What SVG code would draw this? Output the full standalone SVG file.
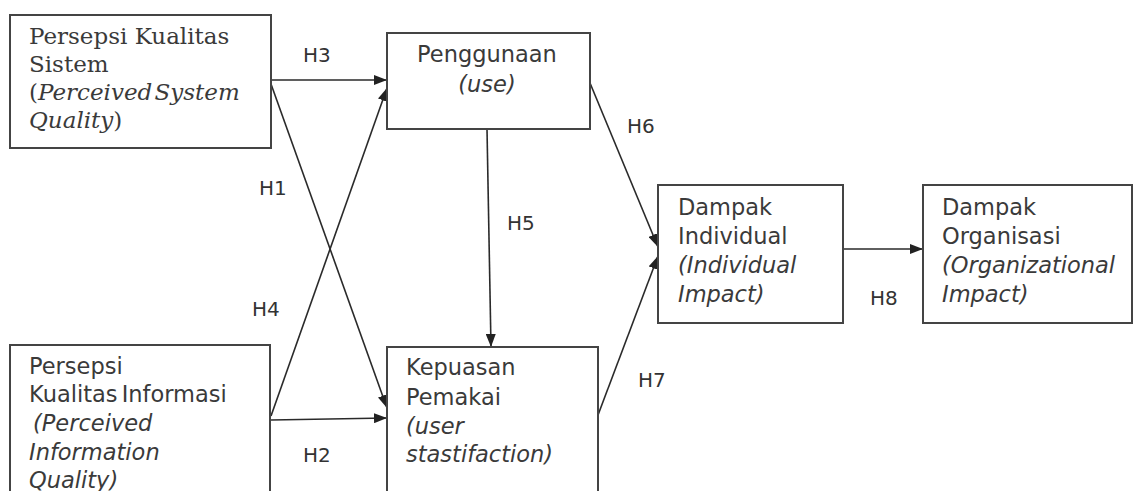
<svg xmlns="http://www.w3.org/2000/svg" width="1134" height="491" viewBox="0 0 1134 491">
<defs>
<marker id="arr" markerUnits="userSpaceOnUse" markerWidth="14" markerHeight="10" refX="13" refY="5" orient="auto">
<path d="M0,0 L13,5 L0,10 Z" fill="#222"/>
</marker>
<style>
.box{fill:#fff;stroke:#444;stroke-width:2}
.ser{font-family:"DejaVu Serif","Liberation Serif",serif;font-size:23px;fill:#3a3a3a}
.san{font-family:"DejaVu Sans","Liberation Sans",sans-serif;font-size:22.5px;fill:#3a3a3a}
.it{font-style:italic}
.lbl{font-family:"DejaVu Sans","Liberation Sans",sans-serif;font-size:20px;fill:#333}
.con{stroke:#2a2a2a;stroke-width:1.6;fill:none;marker-end:url(#arr)}
</style>
</defs>
<rect width="1134" height="491" fill="#fff"/>
<g id="connectors">
<line class="con" x1="271" y1="80" x2="387" y2="80"/>
<line class="con" x1="271" y1="84" x2="387" y2="408"/>
<line class="con" x1="271" y1="416" x2="387" y2="88"/>
<line class="con" x1="271" y1="420" x2="387" y2="418"/>
<line class="con" x1="487" y1="129" x2="491" y2="347"/>
<line class="con" x1="590" y1="83" x2="658" y2="247"/>
<line class="con" x1="598" y1="415" x2="658" y2="256"/>
<line class="con" x1="843" y1="249" x2="923" y2="249"/>
</g>
<g id="labels">
<text class="lbl" x="303" y="62">H3</text>
<text class="lbl" x="259" y="195">H1</text>
<text class="lbl" x="252" y="316">H4</text>
<text class="lbl" x="303" y="462">H2</text>
<text class="lbl" x="507" y="230">H5</text>
<text class="lbl" x="627" y="133">H6</text>
<text class="lbl" x="638" y="387">H7</text>
<text class="lbl" x="870" y="305">H8</text>
</g>
<g id="node-sistem">
<rect class="box" x="10" y="15" width="261" height="133"/>
<text class="ser" x="29" y="44">Persepsi Kualitas</text>
<text class="ser" x="29" y="72">Sistem</text>
<text class="ser" x="29" y="100" word-spacing="-5">(<tspan class="it">Perceived System</tspan></text>
<text class="ser" x="29" y="128"><tspan class="it">Quality</tspan>)</text>
</g>
<g id="node-informasi">
<rect class="box" x="10" y="345" width="260" height="160"/>
<text class="san" x="29" y="374">Persepsi</text>
<text class="san" x="29" y="402" word-spacing="-3">Kualitas Informasi</text>
<text class="san it" x="33" y="431">(Perceived</text>
<text class="san it" x="29" y="460">Information</text>
<text class="san it" x="29" y="488">Quality)</text>
</g>
<g id="node-penggunaan">
<rect class="box" x="387" y="33" width="203" height="96"/>
<text class="san" x="487" y="62" text-anchor="middle">Penggunaan</text>
<text class="san it" x="487" y="92" text-anchor="middle">(use)</text>
</g>
<g id="node-kepuasan">
<rect class="box" x="387" y="347" width="211" height="160"/>
<text class="san" x="406" y="375">Kepuasan</text>
<text class="san" x="406" y="405">Pemakai</text>
<text class="san it" x="406" y="434">(user</text>
<text class="san it" x="406" y="462">stastifaction)</text>
</g>
<g id="node-individual">
<rect class="box" x="658" y="185" width="185" height="138"/>
<text class="san" x="678" y="215">Dampak</text>
<text class="san" x="678" y="244">Individual</text>
<text class="san it" x="678" y="273">(Individual</text>
<text class="san it" x="678" y="302">Impact)</text>
</g>
<g id="node-organisasi">
<rect class="box" x="923" y="185" width="209" height="138"/>
<text class="san" x="942" y="215">Dampak</text>
<text class="san" x="942" y="244">Organisasi</text>
<text class="san it" x="942" y="273">(Organizational</text>
<text class="san it" x="942" y="302">Impact)</text>
</g>
</svg>
